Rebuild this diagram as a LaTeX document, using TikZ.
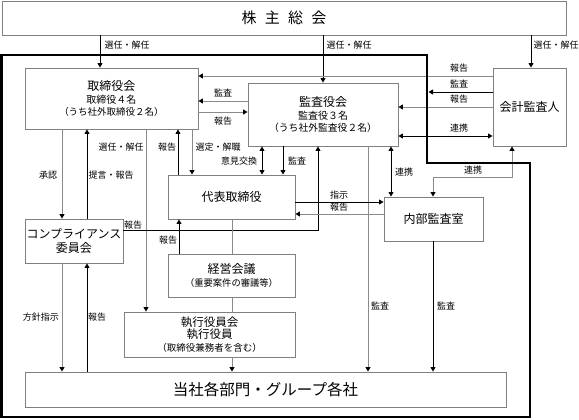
\documentclass[tikz,border=0pt]{standalone}
\usepackage{fontspec}
\setmainfont{Noto Sans CJK JP}
\usetikzlibrary{arrows.meta}
\definecolor{boxgray}{HTML}{808080}
\definecolor{lngray}{HTML}{8A8A8A}
\begin{document}
\begin{tikzpicture}[x=1pt,y=-1pt,
  >={Triangle[length=4.5pt,width=5pt,color=black]},
  box/.style={draw=boxgray, line width=0.9pt, inner sep=0pt, align=center, font=\fontsize{10}{12.5}\selectfont},
  lk/.style={draw=black, line width=0.8pt},
  lg/.style={draw=lngray, line width=0.9pt},
  lab/.style={inner sep=0pt, font=\fontsize{9}{9}\selectfont},
  frame/.style={draw=black, line width=2.5pt}]
\useasboundingbox (0,0) rectangle (579,420);

% boxes
\node[box, minimum width=564pt, minimum height=34pt] (sh) at (284,18)
  {\fontsize{15}{15}\selectfont 株\hspace{0.55em}主\hspace{0.55em}総\hspace{0.55em}会};
\node[box, minimum width=173pt, minimum height=61pt] (tori) at (111.5,98.5)
  {{\fontsize{12}{12.5}\selectfont 取締役会}\\取締役４名\\{\fontsize{9.5}{12.5}\selectfont （うち社外取締役２名）}};
\node[box, minimum width=150pt, minimum height=63pt] (kansa) at (323,114.5)
  {{\fontsize{12}{12.5}\selectfont 監査役会}\\監査役３名\\{\fontsize{9.8}{12.5}\selectfont （うち社外監査役２名）}};
\node[box, minimum width=73pt, minimum height=78pt, font=\fontsize{12}{12}\selectfont] (kaikei) at (529.5,107)
  {会計監査人};
\node[box, minimum width=127pt, minimum height=44pt, font=\fontsize{12}{12}\selectfont] (daihyo) at (231.5,197)
  {代表取締役};
\node[box, minimum width=99pt, minimum height=44pt, font=\fontsize{12}{12}\selectfont] (naibu) at (433.5,219)
  {内部監査室};
\node[box, minimum width=98pt, minimum height=44pt, font=\fontsize{12}{13.5}\selectfont] (comp) at (74,241)
  {コンプライアンス\\委員会};
\node[box, minimum width=127pt, minimum height=43pt] (keiei) at (231.5,275.5)
  {{\fontsize{12}{13}\selectfont 経営会議}\\{\fontsize{9.3}{13}\selectfont （重要案件の審議等）}};
\node[box, minimum width=171pt, minimum height=45pt] (shikko) at (209.5,334.5)
  {{\fontsize{11.5}{12.5}\selectfont 執行役員会}\\{\fontsize{11.5}{12.5}\selectfont 執行役員}\\{\fontsize{9.5}{14}\selectfont （取締役兼務者を含む）}};
\node[box, minimum width=481pt, minimum height=35pt, font=\fontsize{15.5}{16}\selectfont] (tosha) at (265.5,389.5)
  {当社各部門・グループ各社};

% connectors
\draw[lk,->] (sh.south -| 100,0) -- (tori.north -| 100,0);
\draw[lk,->] (sh.south -| 323,0) -- (kansa.north -| 323,0);
\draw[lk,->] (sh.south -| 531,0) -- (kaikei.north -| 531,0);
\draw[lg,->] (kaikei.west |- 0,76) -- (tori.east |- 0,76);
\coordinate (fr) at (428.5,92);
\draw[lk,->] (kaikei.west |- 0,92) -- (fr);
\draw[lg,->] (kaikei.west |- 0,107) -- (kansa.east |- 0,107);
\draw[lk,<->] (kansa.east |- 0,136) -- (kaikei.west |- 0,136);
\draw[lg,->] (kansa.west |- 0,101) -- (tori.east |- 0,101);
\draw[lg,->] (tori.east |- 0,112) -- (kansa.west |- 0,112);
\draw[lg,->] (tori.south -| 62,0) -- (comp.north -| 62,0);
\draw[lk,->] (comp.north -| 87,0) -- (tori.south -| 87,0);
\draw[lg,->] (tori.south -| 146,0) -- (shikko.north -| 146,0);
\draw[lk,->] (daihyo.north -| 178,0) -- (tori.south -| 178,0);
\draw[lg,->] (tori.south -| 192,0) -- (daihyo.north -| 192,0);
\draw[lk,<->] (kansa.south -| 262,0) -- (daihyo.north -| 262,0);
\draw[lk,->] (kansa.south -| 283,0) -- (daihyo.north -| 283,0);
\draw[lk,->] (comp.east |- 0,230) -| (kansa.south -| 318,0);
\draw[lg,->] (kansa.south -| 368,0) -- (tosha.north -| 368,0);
\draw[lk,<->] (kansa.south -| 391,0) -- (naibu.north -| 391,0);
\draw[lg,<->] (kaikei.south -| 512,0) -- (512,177) -| (naibu.north -| 433,0);
\draw[lk,->] (daihyo.east |- 0,202) -- (naibu.west |- 0,202);
\draw[lg,->] (naibu.west |- 0,214) -- (daihyo.east |- 0,214);
\draw[lk,->] (naibu.south -| 433,0) -- (tosha.north -| 433,0);
\draw[lg] (daihyo.south -| 232,0) -- (keiei.north -| 232,0);
\draw[lk,->] (keiei.north -| 179,0) -- (daihyo.south -| 179,0);
\draw[lg] (keiei.south -| 232,0) -- (shikko.north -| 232,0);
\draw[lg,->] (shikko.south -| 232,0) -- (tosha.north -| 232,0);
\draw[lg,->] (comp.south -| 62,0) -- (tosha.north -| 62,0);
\draw[lk,->] (tosha.north -| 87,0) -- (comp.south -| 87,0);

% thick frame
\draw[frame] (1.5,55) -- (427,55) -- (427,163) -- (530,163) -- (530,417) -- (1.5,417) -- cycle;

% labels
\node[lab] (l1) at (127,45) {選任・解任};
\node[lab] (l2) at (349,45) {選任・解任};
\node[lab] (l3) at (556,45) {選任・解任};
\node[lab] (l4) at (459,68) {報告};
\node[lab] (l5) at (459,84) {監査};
\node[lab] (l6) at (459,99) {報告};
\node[lab] (l7) at (459,128) {連携};
\node[lab] (l8) at (223,93) {監査};
\node[lab] (l9) at (223,121) {報告};
\node[lab] (l10) at (48,175) {承認};
\node[lab] (l11) at (111,175) {提言・報告};
\node[lab] (l12) at (121,147) {選任・解任};
\node[lab] (l13) at (167,147) {報告};
\node[lab] (l14) at (218,147) {選定・解職};
\node[lab] (l15) at (239,161) {意見交換};
\node[lab] (l16) at (297,161) {監査};
\node[lab] (l17) at (404,172) {連携};
\node[lab] (l18) at (473,170) {連携};
\node[lab] (l19) at (339,195) {指示};
\node[lab] (l20) at (339,207) {報告};
\node[lab] (l21) at (133,225) {報告};
\node[lab] (l22) at (168,240) {報告};
\node[lab] (l23) at (41,317) {方針指示};
\node[lab] (l24) at (97,317) {報告};
\node[lab] (l25) at (380,306) {監査};
\node[lab] (l26) at (446,306) {監査};
\end{tikzpicture}
\end{document}
